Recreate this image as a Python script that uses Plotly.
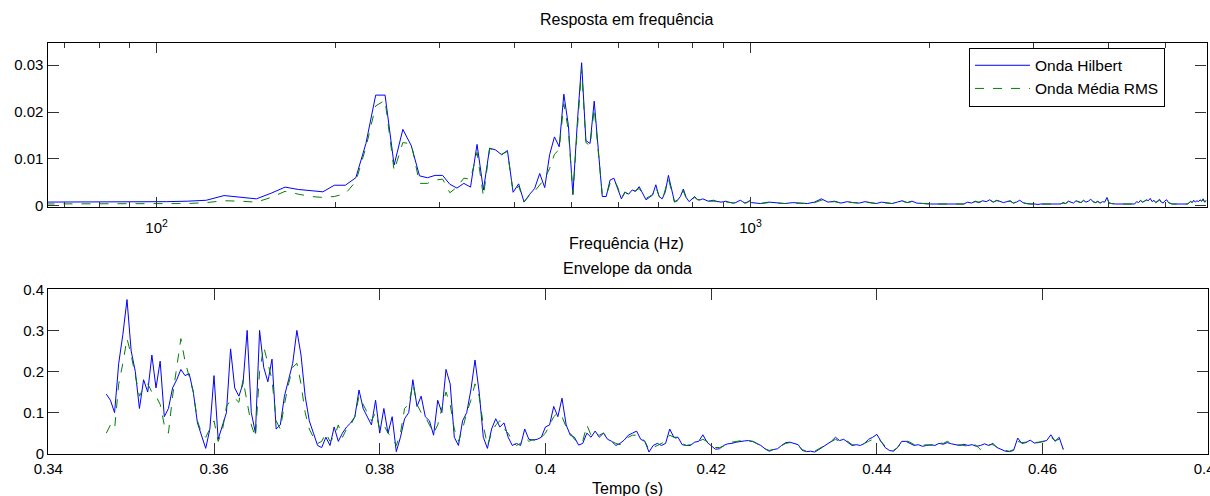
import numpy as np
import plotly.graph_objects as go

# ---------------- data: frequency response (FFT bins, df = 8.66 Hz) ----------------
DF = 8.66
LOW_BIN_START = 7
hilbert_low = [
    0.0008, 0.0008, 0.0008, 0.0008, 0.0009, 0.0009, 0.0010, 0.0012, 0.0022, 0.0019,
    0.0015, 0.0027, 0.0040, 0.0035, 0.0032, 0.0030, 0.0044, 0.0044, 0.0060, 0.0133,
    0.0236, 0.0236, 0.0087, 0.0163, 0.0128, 0.0064, 0.0060, 0.0065, 0.0065, 0.0046,
    0.0038, 0.0048, 0.0040, 0.0131, 0.0034, 0.0123, 0.0119, 0.0109, 0.0118, 0.0029,
    0.0047, 0.0008, 0.0024, 0.0037, 0.0069, 0.0039, 0.0109, 0.0147, 0.0126, 0.0238,
    0.0171, 0.0024, 0.0176, 0.0305, 0.0139, 0.0133, 0.0223, 0.0115, 0.0020, 0.0020,
    0.0055, 0.0059, 0.0038, 0.0015, 0.0029, 0.0025, 0.0034, 0.0031, 0.0041, 0.0025,
    0.0013, 0.0018, 0.0023, 0.0045, 0.0020, 0.0015, 0.0030, 0.0065, 0.0035, 0.0009,
    0.0012, 0.0020, 0.0036, 0.0018, 0.0009, 0.0015, 0.0020, 0.0013, 0.0013, 0.0015,
    0.0012, 0.0010, 0.0011, 0.0012, 0.0010, 0.0009, 0.0008, 0.0009, 0.0010, 0.0008,
    0.0007, 0.0006, 0.0007, 0.0009, 0.0012, 0.0009, 0.0006, 0.0008, 0.0011,
]
rms_low = [
    0.0004, 0.0004, 0.0004, 0.0004, 0.0004, 0.0005, 0.0005, 0.0007, 0.0011, 0.0010,
    0.0008, 0.0018, 0.0031, 0.0025, 0.0020, 0.0018, 0.0020, 0.0026, 0.0052, 0.0125,
    0.0213, 0.0225, 0.0075, 0.0135, 0.0132, 0.0048, 0.0048, 0.0055, 0.0057, 0.0028,
    0.0040, 0.0059, 0.0057, 0.0114, 0.0020, 0.0122, 0.0118, 0.0110, 0.0116, 0.0030,
    0.0042, 0.0009, 0.0022, 0.0031, 0.0045, 0.0058, 0.0080, 0.0110, 0.0120, 0.0218,
    0.0160, 0.0025, 0.0162, 0.0292, 0.0135, 0.0128, 0.0208, 0.0110, 0.0024, 0.0022,
    0.0048, 0.0056, 0.0040, 0.0016, 0.0030, 0.0022, 0.0028, 0.0033, 0.0037, 0.0026,
    0.0016, 0.0020, 0.0024, 0.0040, 0.0021, 0.0012, 0.0033, 0.0058, 0.0032, 0.0008,
    0.0011, 0.0016, 0.0032, 0.0016, 0.0010, 0.0014, 0.0018, 0.0014, 0.0012, 0.0014,
    0.0011, 0.0010, 0.0010, 0.0011, 0.0010, 0.0008, 0.0008, 0.0009, 0.0009, 0.0008,
    0.0007, 0.0006, 0.0007, 0.0008, 0.0011, 0.0009, 0.0006, 0.0007, 0.0010,
]
# high-frequency part, every 4th bin from bin 116
HF_BIN_START = 116
HF_BIN_STEP = 4
hilbert_high = [
    0.0007, 0.0005, 0.0008, 0.0006, 0.0005, 0.0007, 0.0006, 0.0005, 0.0008,
    0.0015, 0.0008, 0.0010, 0.0006, 0.0009, 0.0007, 0.0006, 0.0009, 0.0007, 0.0005, 0.0008, 0.0006, 0.0005,
    0.0008, 0.0011, 0.0007, 0.0010, 0.0006, 0.0005, 0.0004, 0.0004,
    0.0004, 0.0004, 0.0004, 0.0004, 0.0005, 0.0004, 0.0004, 0.0004,
    0.0008, 0.0006, 0.0010, 0.0007, 0.0011, 0.0009, 0.0013, 0.0008, 0.0012, 0.0010, 0.0007, 0.0009, 0.0011,
    0.0006, 0.0008, 0.0012, 0.0007, 0.0005, 0.0004,
    0.0004, 0.0004, 0.0003, 0.0004, 0.0004, 0.0004, 0.0003, 0.0004, 0.0004, 0.0004, 0.0004,
    0.0007, 0.0005, 0.0010, 0.0008, 0.0006, 0.0011, 0.0009, 0.0007, 0.0012, 0.0008, 0.0010, 0.0014, 0.0009,
    0.0007, 0.0010, 0.0006, 0.0009, 0.0008, 0.0018, 0.0006, 0.0005, 0.0004,
    0.0004, 0.0004, 0.0004, 0.0003, 0.0004, 0.0004, 0.0004, 0.0004, 0.0003, 0.0004,
    0.0009, 0.0007, 0.0012, 0.0008, 0.0010, 0.0013, 0.0011, 0.0016, 0.0009, 0.0012, 0.0007, 0.0010, 0.0014,
    0.0008, 0.0006, 0.0011, 0.0013, 0.0007, 0.0005, 0.0004,
    0.0004, 0.0004, 0.0004, 0.0003, 0.0004, 0.0004, 0.0004, 0.0004, 0.0004,
    0.0006, 0.0010, 0.0007, 0.0012, 0.0008, 0.0011, 0.0009, 0.0013, 0.0010, 0.0015, 0.0008, 0.0012,
]
rms_high = [
    0.0006, 0.0005, 0.0007, 0.0006, 0.0005, 0.0006, 0.0006, 0.0005, 0.0007,
    0.0012, 0.0008, 0.0009, 0.0006, 0.0008, 0.0007, 0.0006, 0.0008, 0.0007, 0.0005, 0.0007, 0.0006, 0.0005,
    0.0008, 0.0010, 0.0007, 0.0009, 0.0006, 0.0005, 0.0004, 0.0004,
    0.0004, 0.0004, 0.0004, 0.0004, 0.0004, 0.0004, 0.0004, 0.0004,
    0.0007, 0.0006, 0.0009, 0.0008, 0.0010, 0.0009, 0.0012, 0.0008, 0.0011, 0.0010, 0.0007, 0.0009, 0.0010,
    0.0006, 0.0008, 0.0011, 0.0007, 0.0005, 0.0004,
    0.0004, 0.0004, 0.0004, 0.0004, 0.0004, 0.0004, 0.0004, 0.0004, 0.0004, 0.0004, 0.0004,
    0.0006, 0.0005, 0.0009, 0.0008, 0.0006, 0.0010, 0.0009, 0.0007, 0.0011, 0.0008, 0.0010, 0.0012, 0.0009,
    0.0007, 0.0009, 0.0006, 0.0009, 0.0008, 0.0015, 0.0006, 0.0005, 0.0004,
    0.0004, 0.0004, 0.0004, 0.0004, 0.0004, 0.0004, 0.0004, 0.0004, 0.0004, 0.0004,
    0.0008, 0.0007, 0.0011, 0.0008, 0.0010, 0.0012, 0.0011, 0.0014, 0.0009, 0.0011, 0.0007, 0.0010, 0.0012,
    0.0008, 0.0006, 0.0010, 0.0012, 0.0007, 0.0005, 0.0004,
    0.0004, 0.0004, 0.0004, 0.0004, 0.0004, 0.0004, 0.0004, 0.0004, 0.0004,
    0.0006, 0.0009, 0.0007, 0.0011, 0.0008, 0.0010, 0.0009, 0.0012, 0.0010, 0.0013, 0.0008, 0.0011,
]

# ---------------- data: wave envelope (sampled every 0.5 ms from 0.347 s) ----------------
T_START = 0.347
T_STEP = 0.0005
env_hilbert = [
    0.145, 0.13, 0.10, 0.22, 0.29, 0.375, 0.25, 0.20, 0.11, 0.18,
    0.15, 0.24, 0.16, 0.225, 0.09, 0.11, 0.16, 0.18, 0.205, 0.19,
    0.195, 0.15, 0.075, 0.045, 0.013, 0.06, 0.19, 0.035, 0.07, 0.10,
    0.255, 0.16, 0.14, 0.17, 0.30, 0.10, 0.05, 0.30, 0.21, 0.175,
    0.23, 0.06, 0.07, 0.14, 0.18, 0.22, 0.30, 0.24, 0.14, 0.08,
    0.05, 0.02, 0.015, 0.04, 0.02, 0.065, 0.03, 0.05, 0.065, 0.075,
    0.09, 0.155, 0.11, 0.09, 0.07, 0.13, 0.05, 0.11, 0.05, 0.09,
    0.005, 0.04, 0.085, 0.10, 0.18, 0.115, 0.14, 0.09, 0.08, 0.045,
    0.13, 0.10, 0.205, 0.17, 0.04, 0.02, 0.08, 0.10, 0.155, 0.228,
    0.15, 0.04, 0.013, 0.06, 0.085, 0.065, 0.075, 0.04, 0.02, 0.025,
    0.02, 0.06, 0.035, 0.033, 0.035, 0.04, 0.065, 0.07, 0.115, 0.09,
    0.135, 0.07, 0.045, 0.04, 0.021, 0.025, 0.05, 0.04, 0.055, 0.04,
    0.05, 0.035, 0.03, 0.02, 0.025, 0.033, 0.045, 0.05, 0.055, 0.035,
    0.03, 0.004, 0.02, 0.025, 0.02, 0.025, 0.06, 0.04, 0.04, 0.022,
    0.02, 0.02, 0.028, 0.03, 0.046, 0.028, 0.02, 0.011, 0.012, 0.02,
    0.024, 0.025, 0.028, 0.03, 0.031, 0.032, 0.03, 0.025, 0.02, 0.012,
    0.006, 0.01, 0.012, 0.02, 0.027, 0.028, 0.025, 0.022, 0.008, 0.005,
    0.006, 0.004, 0.01, 0.017, 0.025, 0.03, 0.04, 0.032, 0.035, 0.028,
    0.02, 0.022, 0.02, 0.025, 0.035, 0.04, 0.047, 0.03, 0.015, 0.008,
    0.006, 0.015, 0.03, 0.03, 0.025, 0.02, 0.022, 0.018, 0.02, 0.022,
    0.02, 0.025, 0.023, 0.027, 0.024, 0.022, 0.02, 0.023, 0.02, 0.022,
    0.018, 0.02, 0.024, 0.02, 0.025, 0.015, 0.01, 0.006, 0.005, 0.008,
    0.038, 0.025, 0.027, 0.033, 0.026, 0.027, 0.03, 0.032, 0.046, 0.03,
    0.04, 0.01,
]
env_rms = [
    0.05, 0.07, 0.06, 0.17, 0.22, 0.28, 0.24, 0.19, 0.14, 0.16,
    0.17, 0.15, 0.14, 0.12, 0.07, 0.05, 0.14, 0.21, 0.28, 0.225,
    0.185, 0.15, 0.08, 0.05, 0.04, 0.06, 0.08, 0.03, 0.055, 0.115,
    0.13, 0.135, 0.125, 0.18, 0.12, 0.07, 0.04, 0.20, 0.26, 0.22,
    0.18, 0.08, 0.06, 0.12, 0.17, 0.21, 0.22, 0.17, 0.10, 0.06,
    0.04, 0.025, 0.03, 0.05, 0.03, 0.04, 0.07, 0.04, 0.06, 0.07,
    0.09, 0.14, 0.12, 0.10, 0.08, 0.10, 0.06, 0.07, 0.05, 0.04,
    0.02, 0.05, 0.11, 0.12, 0.17, 0.12, 0.10, 0.09, 0.07, 0.05,
    0.07, 0.11, 0.15, 0.12, 0.06, 0.03, 0.06, 0.10, 0.13, 0.17,
    0.14, 0.07, 0.02, 0.05, 0.07, 0.08, 0.06, 0.05, 0.03, 0.02,
    0.025, 0.04, 0.03, 0.035, 0.03, 0.04, 0.05, 0.07, 0.09, 0.10,
    0.09, 0.065, 0.05, 0.035, 0.025, 0.03, 0.07, 0.045, 0.05, 0.045,
    0.05, 0.04, 0.03, 0.025, 0.022, 0.03, 0.04, 0.045, 0.045, 0.04,
    0.03, 0.01, 0.015, 0.02, 0.025, 0.03, 0.045, 0.04, 0.035, 0.025,
    0.02, 0.022, 0.025, 0.03, 0.035, 0.03, 0.02, 0.015, 0.015, 0.018,
    0.025, 0.028, 0.03, 0.032, 0.033, 0.03, 0.03, 0.025, 0.018, 0.012,
    0.008, 0.01, 0.014, 0.02, 0.025, 0.027, 0.024, 0.02, 0.01, 0.006,
    0.008, 0.006, 0.012, 0.018, 0.024, 0.03, 0.035, 0.03, 0.033, 0.03,
    0.022, 0.02, 0.022, 0.025, 0.03, 0.035, 0.04, 0.03, 0.018, 0.01,
    0.008, 0.015, 0.028, 0.032, 0.028, 0.022, 0.02, 0.02, 0.022, 0.02,
    0.022, 0.027, 0.025, 0.03, 0.025, 0.02, 0.022, 0.02, 0.018, 0.024,
    0.02, 0.01, 0.02, 0.022, 0.022, 0.016, 0.012, 0.008, 0.006, 0.01,
    0.03, 0.027, 0.028, 0.03, 0.027, 0.028, 0.03, 0.03, 0.04, 0.032,
    0.035, 0.012,
]

SERIES_NAMES = ["Onda Hilbert", "Onda Média RMS"]
TOP_YTICKS = [0, 0.01, 0.02, 0.03]
TOP_YTICK_TEXT = ["0", "0.01", "0.02", "0.03"]
TOP_XTICKS = [100, 1000]
TOP_XTICK_TEXT = ["10<sup>2</sup>", "10<sup>3</sup>"]
BOT_XTICKS = [0.34, 0.36, 0.38, 0.40, 0.42, 0.44, 0.46, 0.48]
BOT_XTICK_TEXT = ["0.34", "0.36", "0.38", "0.4", "0.42", "0.44", "0.46", "0.48"]
BOT_YTICKS = [0, 0.1, 0.2, 0.3, 0.4]
BOT_YTICK_TEXT = ["0", "0.1", "0.2", "0.3", "0.4"]

# ---------------- build ----------------
k_low = np.arange(LOW_BIN_START, LOW_BIN_START + len(hilbert_low))
k_high = HF_BIN_START + HF_BIN_STEP * np.arange(len(hilbert_high))
freq = np.concatenate([k_low, k_high]) * DF
h_spec = np.array(hilbert_low + hilbert_high)
r_spec = np.array(rms_low + rms_high)
t = T_START + T_STEP * np.arange(len(env_hilbert))

W, H = 1210, 496
FONT = "Liberation Sans, Arial, Helvetica, sans-serif"
FS_TICK = 15
FS_LABEL = 16
FS_LEG = 15.5
BLUE = "#0000ff"
GREEN = "#008000"

fig = go.Figure()
fig.add_trace(go.Scatter(x=freq, y=h_spec, mode="lines", name=SERIES_NAMES[0],
                         line=dict(color=BLUE, width=1), xaxis="x", yaxis="y"))
fig.add_trace(go.Scatter(x=freq, y=r_spec, mode="lines", name=SERIES_NAMES[1],
                         line=dict(color=GREEN, width=1, dash="dash"), xaxis="x", yaxis="y"))
fig.add_trace(go.Scatter(x=t, y=env_hilbert, mode="lines", showlegend=False,
                         line=dict(color=BLUE, width=1), xaxis="x2", yaxis="y2"))
fig.add_trace(go.Scatter(x=t, y=env_rms, mode="lines", showlegend=False,
                         line=dict(color=GREEN, width=1, dash="dash"), xaxis="x2", yaxis="y2"))

def px_x(p):
    return p / W

def px_y(p):
    return 1 - p / H

axis_common = dict(showline=True, linecolor="black", linewidth=1.3, mirror="allticks",
                   ticks="inside", tickcolor="#333", showgrid=False, zeroline=False,
                   automargin=False,
                   tickfont=dict(family=FONT, size=FS_TICK, color="black"))

fig.update_layout(
    template="none",
    width=W, height=H, autosize=False,
    margin=dict(l=0, r=0, t=0, b=0, autoexpand=False),
    paper_bgcolor="white", plot_bgcolor="white",
    font=dict(family=FONT, size=FS_TICK, color="black"),
    xaxis=dict(type="log", domain=[px_x(47.5), px_x(1206.5)],
               range=[np.log10(65.5), np.log10(5860)], anchor="y",
               tickvals=TOP_XTICKS, ticktext=TOP_XTICK_TEXT, ticklen=10,
               ticklabelstandoff=7,
               minor=dict(ticks="inside", ticklen=5, tickcolor="#333", dtick="D1", showgrid=False),
               **axis_common),
    yaxis=dict(domain=[px_y(207.3), px_y(43)], range=[-0.0003, 0.0347], anchor="x",
               tickvals=TOP_YTICKS, ticktext=TOP_YTICK_TEXT, ticklen=11,
               **axis_common),
    xaxis2=dict(domain=[px_x(48.3), px_x(1208.3)], range=[0.34, 0.48], anchor="y2",
                tickvals=BOT_XTICKS, ticktext=BOT_XTICK_TEXT, ticklen=11,
                ticklabelstandoff=1, ticklabeloverflow="allow",
                **axis_common),
    yaxis2=dict(domain=[px_y(453.7), px_y(289.3)], range=[0, 0.4], anchor="x2",
                tickvals=BOT_YTICKS, ticktext=BOT_YTICK_TEXT, ticklen=11,
                **axis_common),
    legend=dict(x=px_x(969), y=px_y(47.7), xanchor="left", yanchor="top",
                bgcolor="white", bordercolor="black", borderwidth=1,
                font=dict(family=FONT, size=FS_LEG, color="black"),
                itemwidth=55, tracegroupgap=0),
    showlegend=True,
)

def label(text, xp, yp):
    fig.add_annotation(text=text, x=px_x(xp), y=px_y(yp), xref="paper", yref="paper",
                       xanchor="center", yanchor="middle", showarrow=False,
                       font=dict(family=FONT, size=FS_LABEL, color="black"))

label("Resposta em frequência", 627, 20)
label("Frequência (Hz)", 626, 243)
label("Envelope da onda", 627, 268)
label("Tempo (s)", 627, 488)

fig.write_html("out.html")
